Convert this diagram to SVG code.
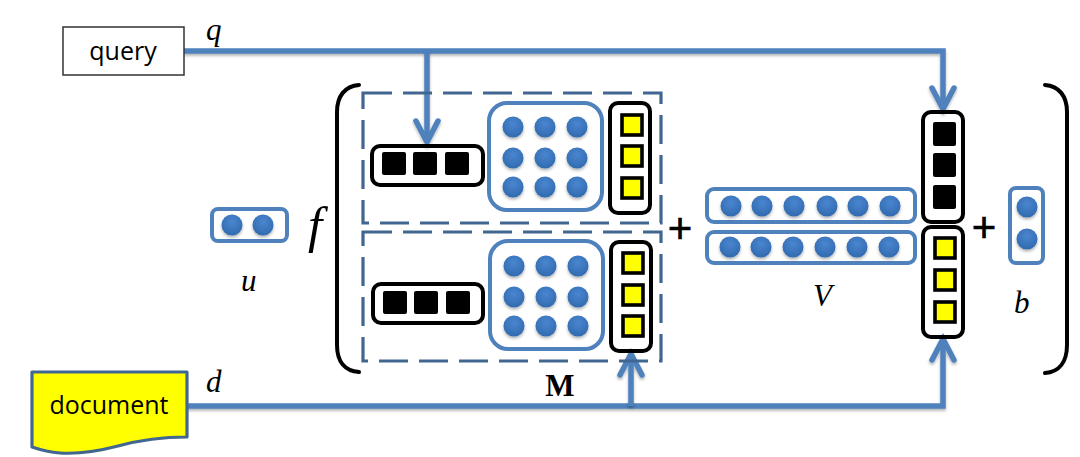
<svg xmlns="http://www.w3.org/2000/svg" width="1080" height="457" viewBox="0 0 1080 457">
<style>
.blk{fill:none;stroke:#000;stroke-width:4}
.blu{fill:none;stroke:#4f81bd;stroke-width:4}
.dash{fill:none;stroke:#41668f;stroke-width:3.2;stroke-dasharray:29 11}
.ys{fill:#ff0;stroke:#000;stroke-width:3.6}
.bs{fill:#000}
.dot{fill:url(#dotg);filter:url(#sh)}
.conn{fill:none;stroke:#4f81bd;stroke-width:5.5;marker-end:url(#arr);filter:url(#sh)}
.brk{fill:none;stroke:#000;stroke-width:4;stroke-linecap:round}
.m{font-family:"Liberation Serif","Times New Roman",serif;font-style:italic;font-size:31px;fill:#000}
.t{font-family:"Open Sans","Noto Sans",sans-serif;font-size:25px;fill:#000;text-anchor:middle}
.p{font-family:"Liberation Sans",Arial,sans-serif;font-size:42px;fill:#000;stroke:#000;stroke-width:0.6;text-anchor:middle}
</style>
<defs>
<radialGradient id="dotg" cx="50%" cy="35%" r="70%"><stop offset="0" stop-color="#4a86d0"/><stop offset="1" stop-color="#2f68ad"/></radialGradient>
<filter id="sh" filterUnits="userSpaceOnUse" x="0" y="0" width="1080" height="457"><feDropShadow dx="0" dy="2" stdDeviation="1.5" flood-color="#000" flood-opacity="0.3"/></filter>
<marker id="arr" markerUnits="userSpaceOnUse" markerWidth="40" markerHeight="40" refX="25" refY="15" viewBox="0 0 40 30" orient="auto"><path d="M4 4 L25 15 L4 26" fill="none" stroke="#4f81bd" stroke-width="5.5" stroke-linecap="round" stroke-linejoin="miter"/></marker>
</defs>

<g id="brackets">
<path class="brk" d="M359 85 C345 86 337 96 337 112 V345 C337 362 345 371 359 372"/>
<path class="brk" d="M1045 85 C1059 86 1067 96 1067 112 V345 C1067 362 1059 372 1045 373"/>
</g>

<g id="connectors">
<path class="conn" d="M184 51 H943 V109"/>
<path class="conn" d="M427 51 V142"/>
<path class="conn" d="M187 406 H943 V339"/>
<path class="conn" d="M631 406 V354"/>
</g>

<g id="query"><rect x="63" y="27" width="121" height="48" fill="#fff" stroke="#333" stroke-width="1.5"/><text class="t" x="123" y="60">query</text></g>
<g id="document"><path d="M32 372 H187 V437 C165 437 140 440 118 446 C95 452 75 454 60 453 C48 452 38 449 32 447 Z" fill="#ff0" stroke="#41668f" stroke-width="3.2" stroke-linejoin="round"/><text class="t" x="109" y="414">document</text></g>
<text class="m" x="206" y="40">q</text>
<text class="m" x="206" y="392">d</text>

<g id="user">
<rect class="blu" x="212" y="209" width="75" height="32" rx="6"/>
<circle class="dot" cx="232" cy="225" r="10.5"/><circle class="dot" cx="263" cy="225" r="10.5"/>
<text class="m" x="241" y="291">u</text>
</g>
<text class="m" x="308" y="242" style="font-size:51px">f</text>

<g id="M-top">
<rect class="dash" x="363" y="93" width="298" height="130"/>
<rect class="blk" x="372" y="146" width="111" height="39" rx="8"/>
<rect class="bs" x="382" y="152" width="24" height="23" rx="2"/><rect class="bs" x="413" y="152" width="24" height="23" rx="2"/><rect class="bs" x="445" y="152" width="24" height="23" rx="2"/>
<rect class="blu" x="489" y="103" width="113" height="107" rx="18"/>
<circle class="dot" cx="513" cy="127" r="10.5"/><circle class="dot" cx="545" cy="127" r="10.5"/><circle class="dot" cx="577" cy="127" r="10.5"/>
<circle class="dot" cx="513" cy="158" r="10.5"/><circle class="dot" cx="545" cy="158" r="10.5"/><circle class="dot" cx="577" cy="158" r="10.5"/>
<circle class="dot" cx="513" cy="187" r="10.5"/><circle class="dot" cx="545" cy="187" r="10.5"/><circle class="dot" cx="577" cy="187" r="10.5"/>
<rect class="blk" x="610" y="103" width="40" height="110" rx="8"/>
<rect class="ys" x="622" y="115" width="20" height="20"/><rect class="ys" x="622" y="146" width="20" height="20"/><rect class="ys" x="622" y="178" width="20" height="20"/>
</g>

<g id="M-bottom">
<rect class="dash" x="363" y="232" width="298" height="129"/>
<rect class="blk" x="373" y="284" width="110" height="39" rx="8"/>
<rect class="bs" x="383" y="291" width="24" height="23" rx="2"/><rect class="bs" x="414" y="291" width="24" height="23" rx="2"/><rect class="bs" x="446" y="291" width="24" height="23" rx="2"/>
<rect class="blu" x="490" y="241" width="113" height="108" rx="18"/>
<circle class="dot" cx="514" cy="266" r="10.5"/><circle class="dot" cx="546" cy="266" r="10.5"/><circle class="dot" cx="578" cy="266" r="10.5"/>
<circle class="dot" cx="514" cy="297" r="10.5"/><circle class="dot" cx="546" cy="297" r="10.5"/><circle class="dot" cx="578" cy="297" r="10.5"/>
<circle class="dot" cx="514" cy="326" r="10.5"/><circle class="dot" cx="546" cy="326" r="10.5"/><circle class="dot" cx="578" cy="326" r="10.5"/>
<rect class="blk" x="611" y="242" width="40" height="109" rx="8"/>
<rect class="ys" x="623" y="253" width="20" height="20"/><rect class="ys" x="623" y="285" width="20" height="20"/><rect class="ys" x="623" y="316" width="20" height="20"/>
</g>
<text x="560" y="396" style="font-family:'Liberation Serif','Times New Roman',serif;font-weight:bold;font-size:31px;text-anchor:middle" fill="#000">M</text>

<text class="p" x="680" y="243">+</text>

<g id="V">
<rect class="blu" x="707" y="189" width="208" height="33" rx="7"/>
<circle class="dot" cx="731" cy="206" r="10.5"/><circle class="dot" cx="762" cy="206" r="10.5"/><circle class="dot" cx="794" cy="206" r="10.5"/><circle class="dot" cx="827" cy="206" r="10.5"/><circle class="dot" cx="858" cy="206" r="10.5"/><circle class="dot" cx="890" cy="206" r="10.5"/>
<rect class="blu" x="707" y="232" width="208" height="31" rx="7"/>
<circle class="dot" cx="730" cy="247" r="10.5"/><circle class="dot" cx="761" cy="247" r="10.5"/><circle class="dot" cx="793" cy="247" r="10.5"/><circle class="dot" cx="825" cy="247" r="10.5"/><circle class="dot" cx="857" cy="247" r="10.5"/><circle class="dot" cx="889" cy="247" r="10.5"/>
<text class="m" x="813" y="306">V</text>
</g>

<g id="query-column">
<rect class="blk" x="923" y="112" width="40" height="110" rx="8"/>
<rect class="bs" x="933" y="122" width="23" height="24" rx="2"/><rect class="bs" x="933" y="153" width="23" height="24" rx="2"/><rect class="bs" x="933" y="185" width="23" height="24" rx="2"/>
</g>
<g id="doc-column">
<rect class="blk" x="923" y="227" width="40" height="110" rx="8"/>
<rect class="ys" x="935" y="238" width="20" height="20"/><rect class="ys" x="935" y="270" width="20" height="20"/><rect class="ys" x="935" y="302" width="20" height="20"/>
</g>

<text class="p" x="984" y="242">+</text>

<g id="b">
<rect class="blu" x="1010" y="188" width="33" height="75" rx="6"/>
<circle class="dot" cx="1027" cy="207" r="10.5"/><circle class="dot" cx="1027" cy="239" r="10.5"/>
<text class="m" x="1014" y="313">b</text>
</g>
</svg>
